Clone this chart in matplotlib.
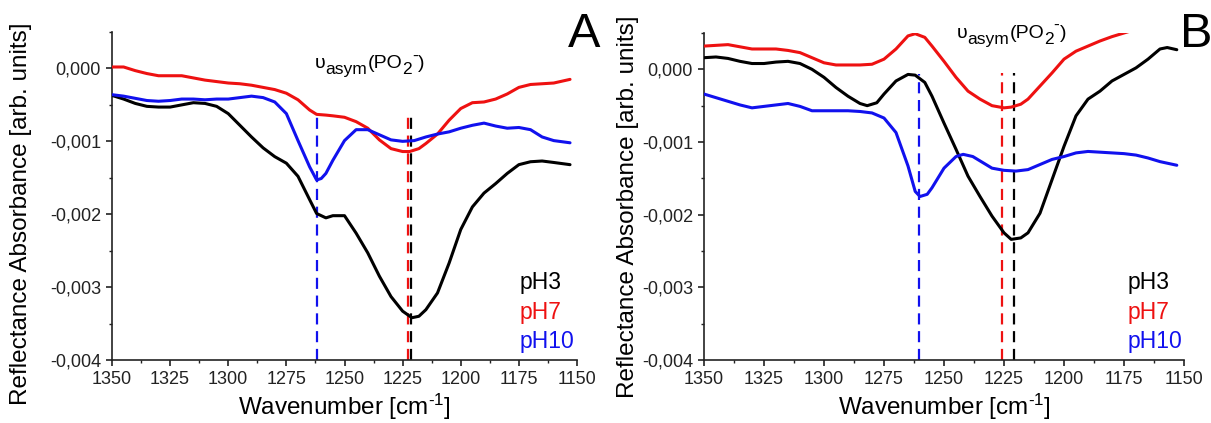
import matplotlib
matplotlib.use("Agg")
import matplotlib.pyplot as plt
from matplotlib.ticker import MultipleLocator, FuncFormatter
from matplotlib.transforms import offset_copy

plt.rcParams['font.family'] = ['Liberation Sans', 'DejaVu Sans']
plt.rcParams['mathtext.fontset'] = 'custom'
plt.rcParams['mathtext.rm'] = 'Liberation Sans'
plt.rcParams['mathtext.it'] = 'Liberation Sans'

# ---------------- Panel A data ----------------
a_ph3_x = [1350, 1345, 1340, 1335, 1330, 1325, 1320, 1315, 1310, 1305, 1300, 1295, 1290, 1285, 1280, 1275,
           1270, 1265, 1262, 1258, 1255, 1250, 1245, 1240, 1235, 1230, 1225, 1221, 1218, 1215, 1210, 1205,
           1200, 1195, 1190, 1185, 1180, 1175, 1170, 1165, 1160, 1153]
a_ph3_y = [-0.00037, -0.00042, -0.00048, -0.00052, -0.00053, -0.00053, -0.00050, -0.00047, -0.00048, -0.00052,
           -0.00062, -0.00078, -0.00094, -0.00109, -0.00121, -0.00130, -0.00148, -0.00180, -0.00199, -0.00205,
           -0.00202, -0.00202, -0.00226, -0.00253, -0.00285, -0.00313, -0.00333, -0.00342, -0.00340, -0.00331,
           -0.00308, -0.00267, -0.00221, -0.00190, -0.00171, -0.00158, -0.00144, -0.00132, -0.00128, -0.00127,
           -0.00129, -0.00132]

a_ph7_x = [1350, 1345, 1340, 1335, 1330, 1325, 1320, 1315, 1310, 1305, 1300, 1295, 1290, 1285, 1280, 1275,
           1270, 1265, 1262, 1258, 1255, 1250, 1245, 1240, 1235, 1230, 1225, 1222, 1218, 1215, 1210, 1205,
           1200, 1195, 1190, 1185, 1180, 1175, 1170, 1165, 1160, 1153]
a_ph7_y = [0.00002, 0.00002, -0.00003, -0.00007, -0.00010, -0.00010, -0.00010, -0.00013, -0.00016, -0.00018,
           -0.00020, -0.00021, -0.00023, -0.00026, -0.00029, -0.00034, -0.00043, -0.00057, -0.00063, -0.00064,
           -0.00065, -0.00067, -0.00073, -0.00082, -0.00098, -0.00110, -0.00114, -0.00114, -0.00110, -0.00103,
           -0.00090, -0.00071, -0.00055, -0.00047, -0.00046, -0.00042, -0.00035, -0.00026, -0.00022, -0.00021,
           -0.00020, -0.00015]

a_ph10_x = [1350, 1345, 1340, 1335, 1330, 1325, 1320, 1315, 1310, 1305, 1300, 1295, 1290, 1285, 1280, 1275,
            1270, 1265, 1262, 1260, 1258, 1255, 1250, 1245, 1240, 1235, 1230, 1225, 1220, 1215, 1210, 1205,
            1200, 1195, 1190, 1185, 1180, 1175, 1170, 1165, 1160, 1153]
a_ph10_y = [-0.00036, -0.00038, -0.00041, -0.00044, -0.00045, -0.00044, -0.00042, -0.00042, -0.00043, -0.00042,
            -0.00042, -0.00040, -0.00038, -0.00040, -0.00046, -0.00062, -0.00099, -0.00135, -0.00153, -0.00151,
            -0.00144, -0.00126, -0.00099, -0.00084, -0.00084, -0.00091, -0.00098, -0.00100, -0.00099, -0.00094,
            -0.00090, -0.00087, -0.00082, -0.00078, -0.00075, -0.00079, -0.00082, -0.00081, -0.00084, -0.00094,
            -0.00099, -0.00102]

# ---------------- Panel B data ----------------
b_ph3_x = [1350, 1345, 1340, 1335, 1330, 1325, 1320, 1315, 1310, 1305, 1300, 1295, 1290, 1285, 1282, 1278,
           1275, 1270, 1265, 1262, 1258, 1255, 1250, 1245, 1240, 1235, 1230, 1225, 1222, 1218, 1215, 1210,
           1205, 1200, 1195, 1190, 1185, 1180, 1175, 1170, 1165, 1160, 1157, 1153]
b_ph3_y = [0.00016, 0.00017, 0.00015, 0.00011, 0.00008, 0.00008, 0.00010, 0.00011, 0.00008, 0.00000,
           -0.00011, -0.00025, -0.00037, -0.00047, -0.00050, -0.00046, -0.00034, -0.00016, -0.00007, -0.00008,
           -0.00018, -0.00037, -0.00074, -0.00110, -0.00147, -0.00175, -0.00202, -0.00225, -0.00234, -0.00232,
           -0.00225, -0.00198, -0.00152, -0.00106, -0.00064, -0.00041, -0.00030, -0.00016, -0.00007, 0.00002,
           0.00014, 0.00028, 0.00030, 0.00027]

b_ph7_x = [1350, 1345, 1340, 1335, 1330, 1325, 1320, 1315, 1310, 1305, 1300, 1295, 1290, 1285, 1280, 1275,
           1270, 1265, 1262, 1258, 1255, 1250, 1245, 1240, 1235, 1230, 1225, 1222, 1218, 1215, 1210, 1205,
           1200, 1195, 1190, 1185, 1180, 1175, 1172]
b_ph7_y = [0.00032, 0.00033, 0.00034, 0.00031, 0.00028, 0.00028, 0.00028, 0.00026, 0.00023, 0.00016,
           0.00009, 0.00006, 0.00006, 0.00006, 0.00007, 0.00014, 0.00028, 0.00046, 0.00049, 0.00044,
           0.00032, 0.00011, -0.00011, -0.00030, -0.00041, -0.00050, -0.00053, -0.00052, -0.00048, -0.00041,
           -0.00023, -0.00005, 0.00014, 0.00025, 0.00032, 0.00039, 0.00045, 0.00050, 0.00053]

b_ph10_x = [1350, 1345, 1340, 1335, 1330, 1325, 1320, 1315, 1310, 1305, 1300, 1295, 1290, 1285, 1280, 1275,
            1270, 1265, 1262, 1260, 1257, 1255, 1250, 1245, 1242, 1238, 1235, 1230, 1225, 1220, 1215, 1210,
            1205, 1200, 1195, 1190, 1185, 1180, 1175, 1170, 1165, 1160, 1153]
b_ph10_y = [-0.00034, -0.00039, -0.00044, -0.00049, -0.00053, -0.00051, -0.00049, -0.00047, -0.00051, -0.00057,
            -0.00057, -0.00057, -0.00057, -0.00058, -0.00060, -0.00067, -0.00087, -0.00133, -0.00168, -0.00175,
            -0.00172, -0.00163, -0.00136, -0.00120, -0.00117, -0.00120, -0.00126, -0.00136, -0.00139, -0.00140,
            -0.00138, -0.00131, -0.00124, -0.00120, -0.00115, -0.00113, -0.00114, -0.00115, -0.00116, -0.00118,
            -0.00122, -0.00127, -0.00132]

# dashed marker lines: (position, top value)
a_marks_x = [1262.0, 1222.7, 1221.2]
a_marks_top = [-0.00062, -0.00065, -0.00065]
b_marks_x = [1260.4, 1225.8, 1221.0]
b_marks_top = [-0.00007, -0.00005, -0.00005]

series_names = ['pH3', 'pH7', 'pH10']
colors = ['#000000', '#ee1111', '#1111ee']
mark_colors = ['#1111ee', '#ee1111', '#000000']

x_range = (1350, 1150)
y_range = (-0.004, 0.0005)

W, H = 1211, 423
fig = plt.figure(figsize=(W / 100, H / 100), dpi=100)
axA = fig.add_axes([112 / W, 1 - 360 / H, 465 / W, 328 / H])
axB = fig.add_axes([704 / W, 1 - 360 / H, 480 / W, 327 / H])

fmt = FuncFormatter(lambda v, p: ('%.3f' % v).replace('.', ',') if abs(v) > 1e-9 else '0,000')

def style(ax, ylab_xy):
    ax.set_xlim(*x_range)
    ax.set_ylim(*y_range)
    ax.spines['top'].set_visible(False)
    ax.spines['right'].set_visible(False)
    for s in ('left', 'bottom'):
        ax.spines[s].set_linewidth(1.2)
        ax.spines[s].set_color('#222222')
    ax.xaxis.set_major_locator(MultipleLocator(25))
    ax.xaxis.set_minor_locator(MultipleLocator(12.5))
    ax.yaxis.set_major_locator(MultipleLocator(0.001))
    ax.yaxis.set_minor_locator(MultipleLocator(0.0005))
    ax.yaxis.set_major_formatter(fmt)
    ax.tick_params(which='major', direction='out', length=4.5, width=1.2, labelsize=13, colors='#222222',
                   pad=3.5)
    ax.tick_params(which='minor', direction='out', length=2.5, width=1.0, colors='#222222')
    ax.set_xlabel(r'Wavenumber [cm$^{\text{-1}}$]', fontsize=17.5, labelpad=3)
    ax.set_ylabel('Reflectance Absorbance [arb. units]', fontsize=17.5)
    ax.yaxis.set_label_coords(*ylab_xy)

renderer = fig.canvas.get_renderer()

def rich_text(ax, x, y, pieces):
    dx = 0.0
    for txt, size, dy in pieces:
        tr = offset_copy(ax.transAxes, fig=fig, x=dx, y=dy, units='points')
        t = ax.text(x, y, txt, fontsize=size, ha='left', va='baseline', transform=tr, clip_on=False)
        dx += t.get_window_extent(renderer).width * 72 / fig.dpi

ann_pieces = [('υ', 14, 0), ('asym', 12.5, -4.5), ('(PO', 14, 0), ('2', 12.5, -4.5), ('-', 12.5, 5.5), (')', 14, 0)]

def draw(ax, data, marks_x, marks_top, ann_xy, letter_xy, letter, leg_x):
    for (xs, ys), c in zip(data, colors):
        ax.plot(xs, ys, color=c, lw=2.2, solid_capstyle='round', zorder=3)
    for mx, mt, mc in zip(marks_x, marks_top, mark_colors):
        ax.plot([mx, mx], [y_range[0], mt], color=mc, lw=1.6, ls=(0, (5, 3)), zorder=2)
    for i, (name, c) in enumerate(zip(series_names, colors)):
        ax.text(leg_x, [0.216, 0.124, 0.036][i], name, color=c, fontsize=16.5, ha='left', va='baseline',
                transform=ax.transAxes)
    rich_text(ax, ann_xy[0], ann_xy[1], ann_pieces)
    fig.text(letter_xy[0], letter_xy[1], letter, fontsize=35, ha='center', va='baseline')

style(axA, (-0.172, 0.445))
style(axB, (-0.135, 0.468))

draw(axA, [(a_ph3_x, a_ph3_y), (a_ph7_x, a_ph7_y), (a_ph10_x, a_ph10_y)], a_marks_x, a_marks_top,
     (0.4366, 0.890), (584 / W, 1 - 47 / H), 'A', 0.877)
draw(axB, [(b_ph3_x, b_ph3_y), (b_ph7_x, b_ph7_y), (b_ph10_x, b_ph10_y)], b_marks_x, b_marks_top,
     (0.527, 0.985), (1196 / W, 1 - 47 / H), 'B', 0.883)

fig.savefig('out.png', dpi=100)
